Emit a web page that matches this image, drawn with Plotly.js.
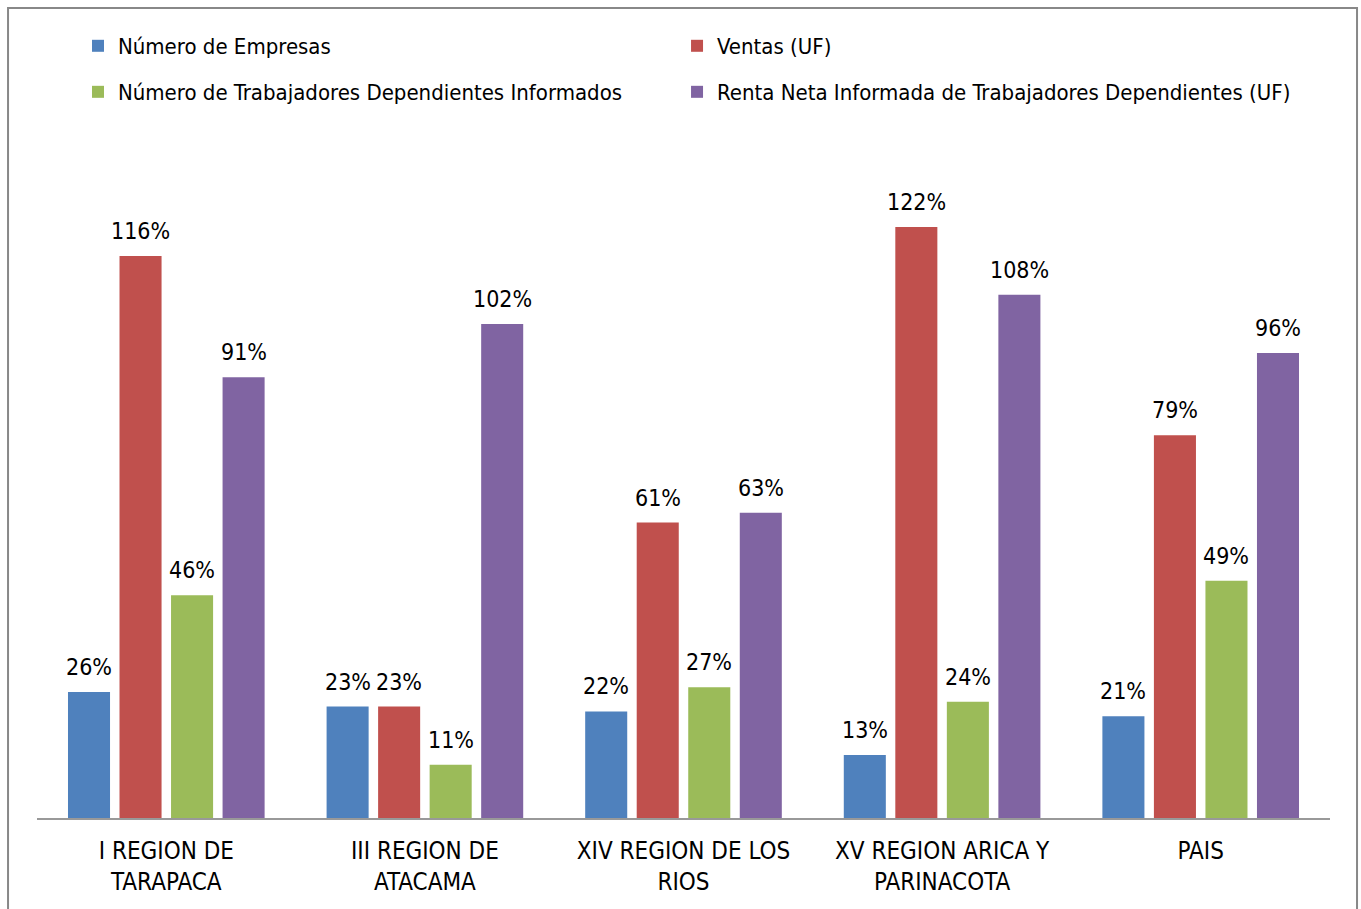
<!DOCTYPE html>
<html>
<head>
<meta charset="utf-8">
<script src="https://cdn.plot.ly/plotly-3.0.1.min.js"></script>
<style>html,body{margin:0;padding:0;background:#fff;}#chart{width:1361px;height:909px;}</style>
</head>
<body>
<div id="chart"></div>
<script>
const categories = ["I REGION DE<br>TARAPACA", "III REGION DE<br>ATACAMA", "XIV REGION DE LOS<br>RIOS", "XV REGION ARICA Y<br>PARINACOTA", "PAIS"];
const seriesNames = ["Número de Empresas", "Ventas (UF)", "Número de Trabajadores Dependientes Informados", "Renta Neta Informada de Trabajadores Dependientes (UF)"];
const empresas = [26, 23, 22, 13, 21];
const ventas = [116, 23, 61, 122, 79];
const trabajadores = [46, 11, 27, 24, 49];
const renta = [91, 102, 63, 108, 96];
const colors = ["#4F81BD", "#C0504D", "#9BBB59", "#8064A2"];

const FONT = "'Liberation Sans Narrow', 'Arial Narrow', 'DejaVu Sans Condensed', sans-serif";
const allSeries = [empresas, ventas, trabajadores, renta];
const legendIds = ["legend", "legend2", "legend3", "legend4"];
const BARGAP = 0.203;
const GROUPGAP = 0.184;

const data = allSeries.map((vals, i) => ({
  type: "bar",
  name: seriesNames[i],
  x: categories,
  y: vals,
  marker: {color: colors[i]},
  legend: legendIds[i],
  hoverinfo: "x+y"
}));

// value labels placed through the axes' scales, one per bar
const nSeries = allSeries.length;
const slot = (1 - BARGAP) / nSeries;
const annotations = [];
allSeries.forEach((vals, i) => {
  vals.forEach((v, j) => {
    annotations.push({
      x: j + (i - (nSeries - 1) / 2) * slot,
      y: v,
      xref: "x", yref: "y",
      text: v + "%",
      showarrow: false,
      xanchor: "center",
      yanchor: "bottom",
      yshift: 10,
      font: {family: FONT, size: 23, color: "#000"}
    });
  });
});

const legendCommon = {
  orientation: "h",
  xanchor: "left",
  yanchor: "middle",
  font: {family: FONT, size: 22, color: "#000"},
  bgcolor: "rgba(0,0,0,0)"
};
const colX = [0.0317, 0.4950];
const rowY = [1.1557, 1.0868];

const layout = {
  width: 1361,
  height: 909,
  margin: {l: 37, r: 31, t: 150, b: 91},
  paper_bgcolor: "#fff",
  plot_bgcolor: "#fff",
  barmode: "group",
  bargap: BARGAP,
  bargroupgap: GROUPGAP,
  font: {family: FONT, size: 24, color: "#000"},
  showlegend: true,
  legend: Object.assign({}, legendCommon, {x: colX[0], y: rowY[0]}),
  legend2: Object.assign({}, legendCommon, {x: colX[1], y: rowY[0]}),
  legend3: Object.assign({}, legendCommon, {x: colX[0], y: rowY[1]}),
  legend4: Object.assign({}, legendCommon, {x: colX[1], y: rowY[1]}),
  xaxis: {
    type: "category",
    showline: true,
    linecolor: "#999",
    linewidth: 2,
    ticks: "",
    showgrid: false,
    ticklabelstandoff: 10,
    tickfont: {family: FONT, size: 24, color: "#000"}
  },
  yaxis: {
    range: [0, 137.9],
    visible: false,
    showgrid: false,
    zeroline: false
  },
  annotations: annotations,
  shapes: [{
    type: "rect",
    xref: "paper", yref: "paper",
    x0: -0.0224, x1: 1.0209,
    y0: -0.2, y1: 1.2126,
    line: {color: "#888", width: 2},
    fillcolor: "rgba(0,0,0,0)",
    layer: "below"
  }]
};

Plotly.newPlot("chart", data, layout, {displayModeBar: false});
</script>
</body>
</html>
